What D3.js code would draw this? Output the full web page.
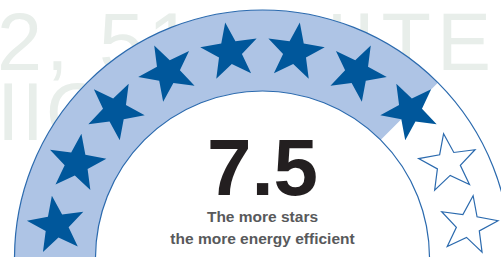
<!DOCTYPE html>
<html>
<head>
<meta charset="utf-8">
<script src="https://cdn.jsdelivr.net/npm/d3@7"></script>
<style>
  html, body { margin: 0; padding: 0; background: #fff; overflow: hidden; }
  svg { display: block; }
</style>
</head>
<body>
<svg id="chart"></svg>
<script>
// star rating data
var rating = 7.5;
var maxStars = 10;
var ratingLabel = ["7.5"];
var captionLines = ["The more stars", "the more energy efficient"];
// faded words showing through behind the dial
var bgTopLeft = ["2, 51"];
var bgTopRight = ["UITE"];
var bgRow2Left = ["IIO"];

var width = 501, height = 257;
var cx = 262.5, cy = 258;
var rOuter = 248, rInner = 167;

var svg = d3.select("#chart")
  .attr("width", width)
  .attr("height", height);

// background ghost text
var ghost = svg.append("g")
  .style("font-family", "'Liberation Sans', Arial, sans-serif")
  .style("font-size", "81px")
  .style("fill", "#e8eeea");
ghost.selectAll("text.tl").data(bgTopLeft).enter().append("text")
  .attr("class", "tl").attr("x", -3).attr("y", 70)
  .style("letter-spacing", "4px").text(function(d) { return d; });
ghost.selectAll("text.tr").data(bgTopRight).enter().append("text")
  .attr("class", "tr").attr("x", 497).attr("y", 70)
  .attr("text-anchor", "end")
  .style("letter-spacing", "6px").text(function(d) { return d; });
ghost.selectAll("text.ml").data(bgRow2Left).enter().append("text")
  .attr("class", "ml").attr("x", -3).attr("y", 140)
  .style("letter-spacing", "2px").text(function(d) { return d; });

// angles: d3 arc convention, 0 at top, clockwise
var angle = d3.scaleLinear()
  .domain([0, maxStars])
  .range([-Math.PI / 2, Math.PI / 2]);

var g = svg.append("g").attr("transform", "translate(" + cx + "," + cy + ")");

// white disc hides the ghost text inside the dial
g.append("path")
  .attr("d", d3.arc()({ innerRadius: 0, outerRadius: rOuter, startAngle: angle(0), endAngle: angle(maxStars) }))
  .style("fill", "#fff");

// filled part of the band
g.append("path")
  .attr("d", d3.arc()({ innerRadius: rInner, outerRadius: rOuter, startAngle: angle(0), endAngle: angle(rating) }))
  .style("fill", "#aec4e5");

// band outlines
[rOuter, rInner].forEach(function(r) {
  g.append("path")
    .attr("d", d3.arc()({ innerRadius: r, outerRadius: r, startAngle: angle(0), endAngle: angle(maxStars) }))
    .style("fill", "none")
    .style("stroke", "#2b6aae")
    .style("stroke-width", 1.2);
});

// star shape
var starOuter = 30, starInner = 12.2;
var starPath = d3.lineRadial()
  .angle(function(d, i) { return i * Math.PI / 5; })
  .radius(function(d, i) { return i % 2 === 0 ? starOuter : starInner; })
  .curve(d3.curveLinearClosed)(d3.range(10));

var rStar = (rOuter + rInner) / 2 + 1;
var stars = d3.range(maxStars);

g.selectAll("path.star")
  .data(stars)
  .enter()
  .append("path")
  .attr("class", "star")
  .attr("d", starPath)
  .attr("transform", function(d) {
    var a = angle(d + 0.5);
    return "translate(" + (rStar * Math.sin(a)) + "," + (-rStar * Math.cos(a)) + ") rotate(" + (a * 180 / Math.PI) + ")";
  })
  .style("fill", function(d) { return d < rating ? "#00579b" : "#fff"; })
  .style("stroke", function(d) { return d < rating ? "none" : "#2b6aae"; })
  .style("stroke-width", 1.2)
  .style("stroke-linejoin", "miter");

// rating number
svg.selectAll("text.rating")
  .data(ratingLabel)
  .enter()
  .append("text")
  .attr("class", "rating")
  .attr("x", cx)
  .attr("y", 195)
  .attr("text-anchor", "middle")
  .style("font-family", "'Liberation Sans', Arial, sans-serif")
  .style("font-weight", "bold")
  .style("font-size", "80px")
  .style("fill", "#231f20")
  .text(function(d) { return d; });

svg.selectAll("text.caption")
  .data(captionLines)
  .enter()
  .append("text")
  .attr("class", "caption")
  .attr("x", cx)
  .attr("y", function(d, i) { return 222 + i * 22; })
  .attr("text-anchor", "middle")
  .style("font-family", "'Liberation Sans', Arial, sans-serif")
  .style("font-weight", "bold")
  .style("font-size", "15.5px")
  .style("fill", "#58595b")
  .text(function(d) { return d; });
</script>
</body>
</html>
